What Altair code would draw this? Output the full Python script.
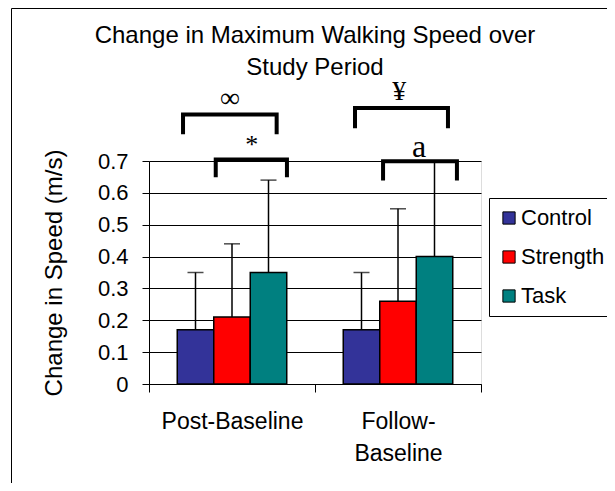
import altair as alt
import pandas as pd

# ---- data ----
periods = ["Post-Baseline", "Follow-Baseline"]
groups = ["Control", "Strength", "Task"]
colors = ["#333399", "#FF0000", "#008080"]
mean_post = [0.17, 0.21, 0.35]
mean_follow = [0.17, 0.26, 0.40]
upper_post = [0.35, 0.44, 0.64]
upper_follow = [0.35, 0.55, 0.70]
y_ticks = [0, 0.1, 0.2, 0.3, 0.4, 0.5, 0.6, 0.7]

# significance brackets: x in category units (each period spans 1), y in m/s
bracket_ids = ["inf", "star", "yen", "a"]
bracket_x1 = [0.205, 0.402, 1.241, 1.410]
bracket_x2 = [0.769, 0.831, 1.801, 1.855]
bracket_top = [0.846, 0.705, 0.866, 0.699]
bracket_bottom = [0.784, 0.649, 0.803, 0.639]
sig_labels = ["∞", "*", "¥", "a"]
sig_x = [0.488, 0.619, 1.508, 1.627]
sig_y = [0.868, 0.726, 0.892, 0.712]
sig_size = [28, 26, 28, 32]

# ---- tables ----
rows = []
for p, means, ups in [(periods[0], mean_post, upper_post), (periods[1], mean_follow, upper_follow)]:
    for g, m, u in zip(groups, means, ups):
        rows.append({"period": p, "group": g, "mean": m, "upper": u})
df = pd.DataFrame(rows)

brows = []
for i, bid in enumerate(bracket_ids):
    pts = [(bracket_x1[i], bracket_bottom[i]), (bracket_x1[i], bracket_top[i]),
           (bracket_x2[i], bracket_top[i]), (bracket_x2[i], bracket_bottom[i])]
    for k, (bx, by) in enumerate(pts):
        brows.append({"id": bid, "k": k, "bx": bx, "by": by})
bdf = pd.DataFrame(brows)
tdf = pd.DataFrame({"label": sig_labels, "tx": sig_x, "ty": sig_y, "fs": sig_size})

FONT = "Liberation Sans"
yscale = alt.Scale(domain=[0, 0.7], nice=False, zero=True)

x_enc = alt.X(
    "period:N", sort=periods,
    scale=alt.Scale(paddingInner=0, paddingOuter=0),
    axis=alt.Axis(
        title=None, labelAngle=0, tickBand="extent", tickSize=8, tickColor="black",
        domainColor="black", labelColor="black", labelFont=FONT, labelFontSize=23,
        labelPadding=18, labelLineHeight=32, grid=False,
        labelExpr="datum.label == 'Follow-Baseline' ? ['Follow-', 'Baseline'] : datum.label",
    ),
)
xoff_enc = alt.XOffset("group:N", sort=groups, scale=alt.Scale(paddingInner=0, paddingOuter=0.774))
y_axis = alt.Axis(
    title="Change in Speed (m/s)", values=y_ticks, format="~g",
    tickSize=7, tickColor="black", domainColor="black", gridColor="black", gridWidth=1,
    labelColor="black", labelFont=FONT, labelFontSize=22, labelPadding=14,
    titleColor="black", titleFont=FONT, titleFontSize=24, titleFontWeight="normal", titlePadding=31,
)

bars = alt.Chart(df).mark_bar(stroke="black", strokeWidth=1.5).encode(
    x=x_enc, xOffset=xoff_enc,
    y=alt.Y("mean:Q", scale=yscale, axis=y_axis),
    color=alt.Color(
        "group:N", sort=groups, scale=alt.Scale(domain=groups, range=colors),
        legend=alt.Legend(
            title=None, orient="none", legendX=340, legendY=37, strokeColor="black",
            fillColor="white", padding=9, labelFont=FONT, labelFontSize=22, labelColor="black",
            symbolType="square", symbolSize=150, symbolStrokeColor="black", symbolStrokeWidth=1,
            symbolOpacity=1, labelOffset=1, rowPadding=17,
        ),
    ),
)
errs = alt.Chart(df).mark_rule(color="black", strokeWidth=1.5).encode(
    x=x_enc, xOffset=xoff_enc,
    y=alt.Y("mean:Q", scale=yscale, axis=y_axis), y2="upper:Q",
)
caps = alt.Chart(df).mark_tick(color="black", thickness=1.5, size=16, orient="horizontal").encode(
    x=x_enc, xOffset=xoff_enc,
    y=alt.Y("upper:Q", scale=yscale, axis=y_axis),
)
main = alt.layer(bars, errs, caps)

xa_scale = alt.Scale(domain=[0, 2], nice=False, zero=False)
brackets = alt.Chart(bdf).mark_line(
    color="black", strokeWidth=4, strokeJoin="miter", strokeCap="butt", clip=False
).encode(
    x=alt.X("bx:Q", scale=xa_scale, axis=None),
    y=alt.Y("by:Q", scale=yscale, axis=y_axis),
    detail="id:N", order="k:Q",
)
sig_text = alt.Chart(tdf).mark_text(
    baseline="alphabetic", align="center", font="Liberation Serif", color="black", clip=False
).encode(
    x=alt.X("tx:Q", scale=xa_scale, axis=None),
    y=alt.Y("ty:Q", scale=yscale, axis=y_axis),
    text="label:N",
    size=alt.Size("fs:Q", scale=None, legend=None),
)
annot = alt.layer(brackets, sig_text)

one = pd.DataFrame({"a": [0]})
frame_left = alt.Chart(one).mark_rule(color="black", strokeWidth=1).encode(
    x=alt.value(-137.5), y=alt.value(-152.5), y2=alt.value(400)
)
frame_top = alt.Chart(one).mark_rule(color="black", strokeWidth=1).encode(
    x=alt.value(-137.5), x2=alt.value(500), y=alt.value(-152.5)
)

chart = (
    alt.layer(main, annot, frame_left, frame_top)
    .resolve_scale(x="independent")
    .properties(
        width=332, height=223, autosize="none",
        padding={"left": 141, "top": 153, "right": 126, "bottom": 99},
        title=alt.Title(
            text=["Change in Maximum Walking Speed over", "Study Period"],
            font=FONT, fontSize=24, fontWeight="normal", lineHeight=32,
            anchor="middle", color="black", offset=0, dy=72,
        ),
    )
    .configure_view(strokeWidth=0)
    .configure(background="white")
)

chart.save("out.html", embed_options={"renderer": "svg", "actions": False})
